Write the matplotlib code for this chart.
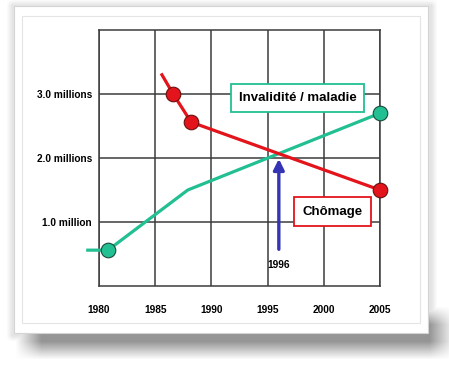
import numpy as np
import matplotlib.pyplot as plt
from matplotlib.patches import Rectangle

plt.rcParams['font.family'] = ['Liberation Sans', 'DejaVu Sans']

# data (millions of people)
years_chom = [1985.6, 1986.6, 1988.2, 2005]
chomage = [3.3, 3.0, 2.56, 1.5]
chom_marks = [1, 2, 3]
years_inv = [1979.0, 1980.8, 1987.9, 2005]
invalidite = [0.56, 0.56, 1.5, 2.7]
inv_marks = [1, 3]
x_ticks = [1980, 1985, 1990, 1995, 2000, 2005]
y_ticks = [1, 2, 3]
y_labels = ['1.0 million', '2.0 millions', '3.0 millions']
cross_year = 1996
cross_value = 2.05

W, H = 449, 371
green = '#22bf93'
red = '#e3141b'
grid_c = '#3c3c3c'

fig = plt.figure(figsize=(W / 100, H / 100), dpi=100)
fig.patch.set_facecolor('white')


def fx(px):
    return px / W


def fy(py):
    return 1 - py / H


# soft shadow behind the card
bg = fig.add_axes([0, 0, 1, 1], zorder=-2)
bg.set_axis_off()
xx = np.arange(W)[None, :]
yy = np.arange(H)[:, None]


def ramp(v, a, b, s):
    return np.clip((v - a) / s + 0.5, 0, 1) * np.clip((b - v) / s + 0.5, 0, 1)


alpha = 0.62 * ramp(xx, 28, 442, 26) * ramp(yy, 315, 350, 18)
alpha = np.maximum(alpha, 0.16 * ramp(xx, 9, 434, 6) * ramp(yy, 2, 338, 6))
img = np.zeros((H, W, 4))
img[..., :3] = 0.33
img[..., 3] = alpha
bg.imshow(img, extent=[0, W, H, 0], aspect='auto')
bg.set_xlim(0, W)
bg.set_ylim(H, 0)

# card
bg.add_patch(Rectangle((14, 6), 414, 327, facecolor='white', edgecolor='#d4d4d4', lw=0.8))
bg.add_patch(Rectangle((22, 16), 398, 307, facecolor='none', edgecolor='#e4e4e4', lw=0.8))

ax = fig.add_axes([fx(99), fy(286), fx(380) - fx(99), fy(30) - fy(286)])
ax.set_facecolor('none')
ax.set_xlim(1980, 2005)
ax.set_ylim(0, 4)
ax.set_xticks(x_ticks)
ax.set_xticklabels([str(x) for x in x_ticks], fontsize=7.3, fontweight='bold')
ax.set_yticks(y_ticks)
ax.set_yticklabels(y_labels, fontsize=7.3, fontweight='bold')
ax.tick_params(length=0, pad=5)
ax.tick_params(axis='x', pad=14)
ax.grid(True, color=grid_c, lw=1.1)
for s in ax.spines.values():
    s.set_color(grid_c)
    s.set_linewidth(1.1)

ax.plot(years_inv, invalidite, color=green, lw=2.3, clip_on=False, zorder=3)
ax.plot([years_inv[i] for i in inv_marks], [invalidite[i] for i in inv_marks], 'o',
        ms=10.5, mfc=green, mec='#1a4a3a', mew=0.8, clip_on=False, zorder=4)
ax.plot(years_chom, chomage, color=red, lw=2.3, clip_on=False, zorder=3)
ax.plot([years_chom[i] for i in chom_marks], [chomage[i] for i in chom_marks], 'o',
        ms=10.5, mfc=red, mec='#6a1010', mew=0.8, clip_on=False, zorder=4)

ax.annotate('', xy=(cross_year, cross_value - 0.02), xytext=(cross_year, 0.53),
            arrowprops=dict(arrowstyle='-|>', color='#3434b4', lw=2.4, mutation_scale=16),
            zorder=5)
ax.text(cross_year, 0.33, '1996', ha='center', va='center', fontsize=7.3, fontweight='bold')

ax.text(1997.66, 2.94, 'Invalidité / maladie', ha='center', va='center', fontsize=9.5,
        fontweight='bold', zorder=6,
        bbox=dict(boxstyle='square,pad=0.6', fc='white', ec=green, lw=1.3))
ax.text(2000.77, 1.16, 'Chômage', ha='center', va='center', fontsize=9.5,
        fontweight='bold', zorder=6,
        bbox=dict(boxstyle='square,pad=0.65', fc='white', ec=red, lw=1.3))

fig.savefig('out.png', dpi=100)
